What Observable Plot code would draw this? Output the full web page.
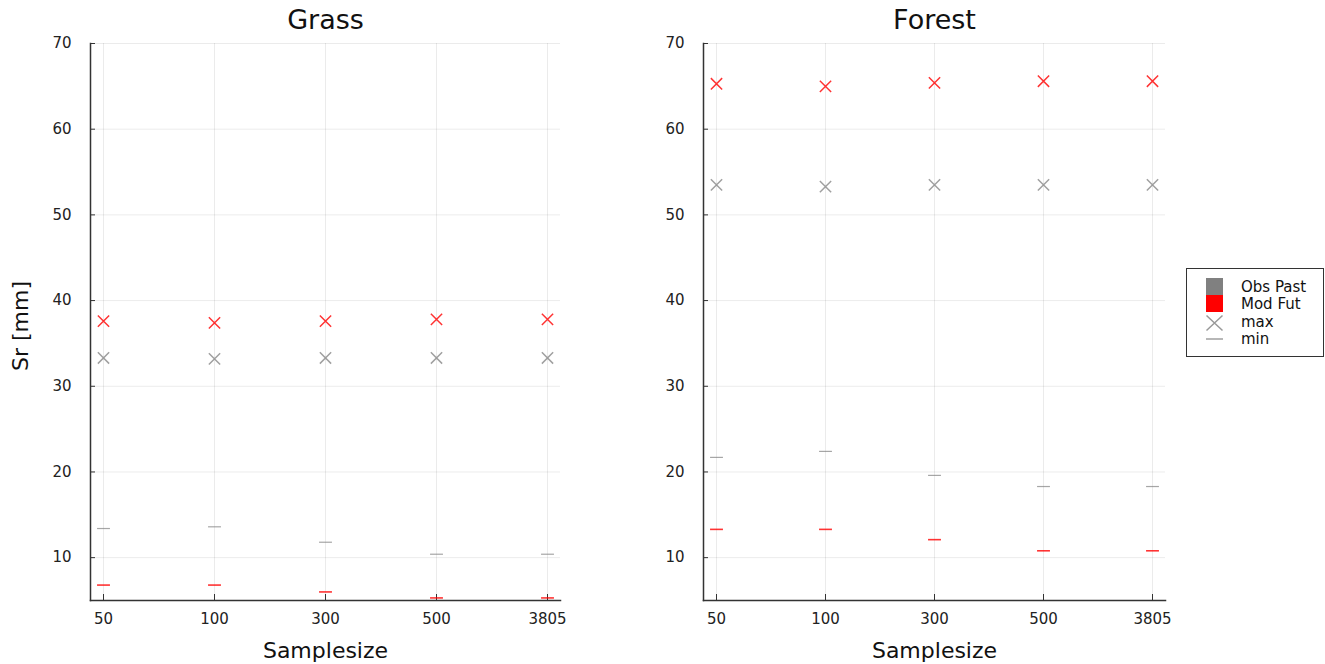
<!DOCTYPE html>
<html>
<head>
<meta charset="utf-8">
<script src="https://cdn.jsdelivr.net/npm/d3@7"></script>
<script src="https://cdn.jsdelivr.net/npm/@observablehq/plot@0.6"></script>
<style>
  html, body { margin: 0; padding: 0; background: #fff; }
  #root { position: relative; width: 1325px; height: 664px; font-family: "DejaVu Sans", sans-serif; }
  .panel { position: absolute; top: 0; }
  #legend { position: absolute; left: 1186px; top: 268px; }
</style>
</head>
<body>
<div id="root">
  <div id="grass" class="panel" style="left:0px"></div>
  <div id="forest" class="panel" style="left:613px"></div>
  <div id="legend"></div>
</div>
<script>
// ---- data ----
const samples = ["50", "100", "300", "500", "3805"];
const yTicks = [10, 20, 30, 40, 50, 60, 70];
const seriesNames = ["Obs Past", "Mod Fut"];
const statNames = ["max", "min"];
const grassObsMax = [33.3, 33.2, 33.3, 33.3, 33.3];
const grassFutMax = [37.6, 37.4, 37.6, 37.8, 37.8];
const grassObsMin = [13.4, 13.6, 11.8, 10.4, 10.4];
const grassFutMin = [6.8, 6.8, 6.0, 5.3, 5.3];
const forestObsMax = [53.5, 53.3, 53.5, 53.5, 53.5];
const forestFutMax = [65.3, 65.0, 65.4, 65.6, 65.6];
const forestObsMin = [21.7, 22.4, 19.6, 18.3, 18.3];
const forestFutMin = [13.3, 13.3, 12.1, 10.8, 10.8];

const colors = {"Obs Past": "#808080", "Mod Fut": "#ff0000"};
const FONT = "DejaVu Sans, sans-serif";

const hline = {
  draw(ctx, size) {
    const w = Math.sqrt(size) * 0.52;
    ctx.moveTo(-w, 0);
    ctx.lineTo(w, 0);
  }
};

function rows(obsMax, futMax, obsMin, futMin) {
  const out = [];
  samples.forEach((s, i) => {
    out.push({s, series: "Obs Past", stat: "max", v: obsMax[i]});
    out.push({s, series: "Mod Fut", stat: "max", v: futMax[i]});
    out.push({s, series: "Obs Past", stat: "min", v: obsMin[i]});
    out.push({s, series: "Mod Fut", stat: "min", v: futMin[i]});
  });
  return out;
}

function panel(title, data, opts) {
  const maxes = data.filter(d => d.stat === "max");
  const mins = data.filter(d => d.stat === "min");
  const marks = [
    Plot.gridY(yTicks, {stroke: "#000", strokeOpacity: 0.08}),
    Plot.gridX(samples, {stroke: "#000", strokeOpacity: 0.08}),
    Plot.axisY(yTicks, {tickSize: -5, tickPadding: 24, fontSize: 15, fill: "#222", stroke: "#333", label: null}),
    Plot.axisX(samples, {tickSize: -6, tickPadding: 19, fontSize: 15, fill: "#222", stroke: "#333", label: null}),
    Plot.frame({anchor: "left", stroke: "#333", strokeWidth: 1.5}),
    Plot.frame({anchor: "bottom", stroke: "#333", strokeWidth: 1.5}),
    Plot.dot(mins, {x: "s", y: "v", symbol: hline, r: 7, stroke: d => colors[d.series], strokeOpacity: d => d.series === "Mod Fut" ? 0.8 : 0.7, strokeWidth: d => d.series === "Mod Fut" ? 1.6 : 1.2}),
    Plot.dot(maxes, {x: "s", y: "v", symbol: "times", r: 5.2, stroke: d => colors[d.series], strokeOpacity: d => d.series === "Mod Fut" ? 0.8 : 0.75, strokeWidth: 1.5}),
    Plot.text([title], {frameAnchor: "top", lineAnchor: "middle", dy: -23.5, fontSize: 27, fill: "#111"}),
    Plot.text(["Samplesize"], {frameAnchor: "bottom", lineAnchor: "middle", dy: 50, fontSize: 22, fill: "#111"})
  ];
  if (opts.ylabel) {
    marks.push(Plot.text([opts.ylabel], {frameAnchor: "left", textAnchor: "middle", lineAnchor: "middle", dx: -70, dy: 4, rotate: -90, fontSize: 22, fill: "#111"}));
  }
  return Plot.plot({
    width: opts.width,
    height: 664,
    marginLeft: 90,
    marginRight: opts.marginRight,
    marginTop: 43,
    marginBottom: 64,
    style: {fontFamily: FONT, background: "transparent"},
    x: {type: "point", domain: samples, padding: 0, insetLeft: opts.insetLeft, insetRight: opts.insetRight},
    y: {domain: [5, 70]},
    marks
  });
}

document.getElementById("grass").appendChild(
  panel("Grass", rows(grassObsMax, grassFutMax, grassObsMin, grassFutMin),
    {width: 600, marginRight: 40, insetLeft: 13, insetRight: 13, ylabel: "Sr [mm]"}));
document.getElementById("forest").appendChild(
  panel("Forest", rows(forestObsMax, forestFutMax, forestObsMin, forestFutMin),
    {width: 590, marginRight: 38, insetLeft: 12, insetRight: 13}));

// ---- legend ----
const legendLabels = [seriesNames[0], seriesNames[1], statNames[0], statNames[1]];
const ns = "http://www.w3.org/2000/svg";
const lsvg = document.createElementNS(ns, "svg");
lsvg.setAttribute("width", 139);
lsvg.setAttribute("height", 90);
lsvg.setAttribute("font-family", FONT);
lsvg.innerHTML = `
  <rect x="0.5" y="0.5" width="137" height="88" fill="#fff" stroke="#333" stroke-width="1"/>
  <rect x="20" y="10" width="17" height="17" fill="${colors["Obs Past"]}"/>
  <rect x="20" y="27" width="17" height="17" fill="${colors["Mod Fut"]}"/>
  <path d="M20.5,47.5 L36.5,62.5 M36.5,47.5 L20.5,62.5" stroke="#999" stroke-width="1.5" fill="none"/>
  <path d="M20,71 L37,71" stroke="#999" stroke-width="1.4"/>
` + legendLabels.map((t, i) => `<text x="55" y="${[19, 35.5, 54, 70.5][i]}" dy="0.36em" font-size="15" fill="#111">${t}</text>`).join("");
document.getElementById("legend").appendChild(lsvg);
</script>
</body>
</html>
